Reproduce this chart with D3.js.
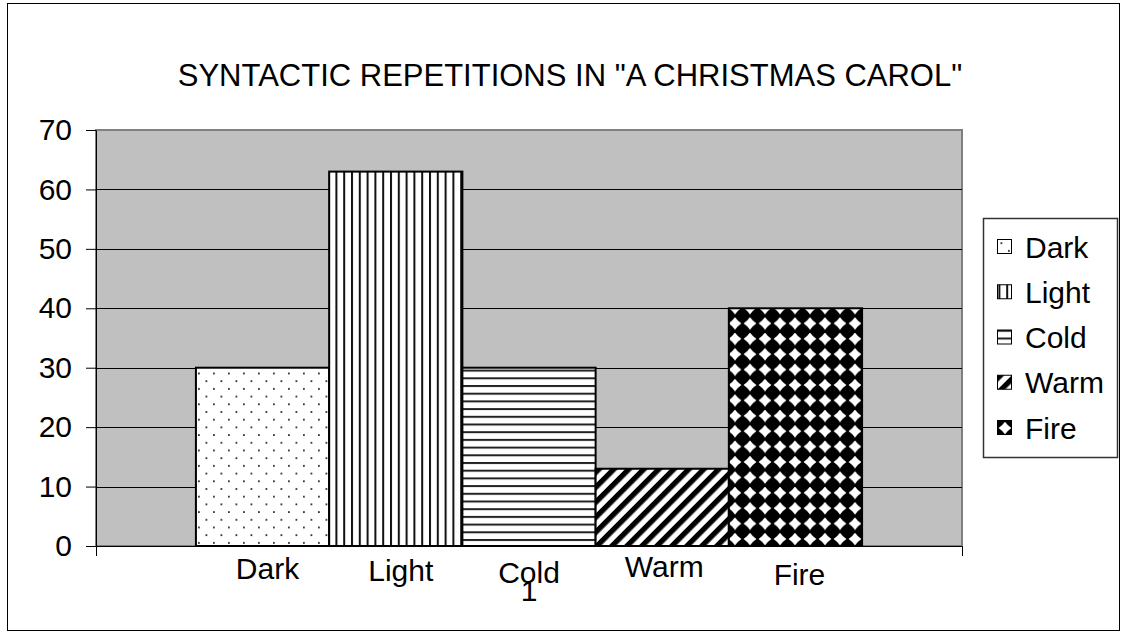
<!DOCTYPE html>
<html>
<head>
<meta charset="utf-8">
<script src="https://cdn.jsdelivr.net/npm/d3@7"></script>
<style>
  html, body { margin: 0; padding: 0; background: #fff; }
  svg { display: block; font-family: "Liberation Sans", Arial, sans-serif; }
</style>
</head>
<body>
<svg id="chart" width="1125" height="635"></svg>
<script>
// ---- data ----
const categories = ["1"];
const seriesNames = ["Dark", "Light", "Cold", "Warm", "Fire"];
const seriesValues = [30, 63, 30, 13, 40];
const yTickValues = [0, 10, 20, 30, 40, 50, 60, 70];
const chartTitle = 'SYNTACTIC REPETITIONS IN "A CHRISTMAS CAROL"';

// ---- layout ----
const W = 1125, H = 635;
const plot = { left: 96, top: 130, right: 962, bottom: 546 };
const fontSize = 30;
// small hand-placed offsets of the series name boxes under the bars [dx, baseline]
const nameBoxNudge = [[5, 579], [5, 581], [0, 583], [2, 577], [4, 585]];

const svg = d3.select("#chart");

// ---- fill patterns ----
const defs = svg.append("defs");
function pattern(id, w, h, transform) {
  const p = defs.append("pattern")
    .attr("id", id)
    .attr("patternUnits", "userSpaceOnUse")
    .attr("width", w).attr("height", h);
  if (transform) p.attr("patternTransform", transform);
  p.append("rect").attr("width", w).attr("height", h).attr("fill", "#fff");
  return p;
}
// Dark: sparse dots
{
  const p = pattern("fill-Dark", 15, 15.4);
  p.append("rect").attr("x", 3).attr("y", 3).attr("width", 1.8).attr("height", 1.8).attr("fill", "#333");
  p.append("rect").attr("x", 10.5).attr("y", 10.7).attr("width", 1.8).attr("height", 1.8).attr("fill", "#333");
}
// Light: vertical lines
{
  const p = pattern("fill-Light", 7.8, 10);
  p.append("rect").attr("x", 0).attr("width", 2).attr("height", 10).attr("fill", "#111");
}
// Cold: horizontal lines
{
  const p = pattern("fill-Cold", 10, 7.7);
  p.append("rect").attr("y", 0).attr("width", 10).attr("height", 2).attr("fill", "#222");
}
// Warm: wide upward diagonal
{
  const p = pattern("fill-Warm", 10.6, 10.6, "rotate(45)");
  p.append("rect").attr("width", 5.3).attr("height", 10.6).attr("fill", "#000");
}
// Fire: solid diamonds
{
  const w = 15, h = 15.4, cx = w / 2, cy = h / 2, r = 8.4, k = 0.62 * r;
  const p = pattern("fill-Fire", w, h);
  p.append("path")
    .attr("d", `M${cx},${cy - r} Q${cx + k},${cy - k} ${cx + r},${cy} Q${cx + k},${cy + k} ${cx},${cy + r}` +
               ` Q${cx - k},${cy + k} ${cx - r},${cy} Q${cx - k},${cy - k} ${cx},${cy - r}Z`)
    .attr("fill", "#000");
}

// ---- outer chart frame ----
svg.append("rect")
  .attr("x", 7.5).attr("y", 3.5)
  .attr("width", 1112).attr("height", 627)
  .attr("fill", "#fff").attr("stroke", "#000").attr("stroke-width", 1);

// ---- title ----
svg.append("text")
  .attr("x", 570).attr("y", 86)
  .attr("text-anchor", "middle")
  .attr("font-size", 31)
  .attr("fill", "#000")
  .text(chartTitle);

// ---- scales ----
const y = d3.scaleLinear().domain([0, 70]).range([plot.bottom, plot.top]);
const x0 = d3.scaleBand().domain(categories).range([plot.left, plot.right]).padding(0);
const x1 = d3.scaleBand().domain(seriesNames).range([0, x0.bandwidth()])
  .paddingInner(0).paddingOuter(0.75);

// ---- plot area ----
svg.append("rect")
  .attr("x", plot.left).attr("y", plot.top)
  .attr("width", plot.right - plot.left).attr("height", plot.bottom - plot.top)
  .attr("fill", "#c0c0c0").attr("stroke", "#808080").attr("stroke-width", 2);

svg.append("g").selectAll("line")
  .data(yTickValues.filter(v => v > 0 && v < 70))
  .join("line")
  .attr("x1", plot.left).attr("x2", plot.right)
  .attr("y1", d => Math.round(y(d)) + 0.5).attr("y2", d => Math.round(y(d)) + 0.5)
  .attr("stroke", "#000").attr("stroke-width", 1);

// ---- bars ----
const barData = seriesNames.map((name, i) => ({ category: categories[0], name, value: seriesValues[i] }));
svg.append("g").selectAll("rect")
  .data(barData)
  .join("rect")
  .attr("x", d => x0(d.category) + x1(d.name))
  .attr("y", d => y(d.value))
  .attr("width", x1.bandwidth())
  .attr("height", d => y(0) - y(d.value))
  .attr("fill", d => `url(#fill-${d.name})`)
  .attr("stroke", "#000").attr("stroke-width", 2);

// ---- axes ----
const yAxis = svg.append("g")
  .attr("transform", `translate(${plot.left},0)`)
  .call(d3.axisLeft(y).tickValues(yTickValues).tickSize(10).tickSizeOuter(0).tickPadding(14).tickFormat(d3.format("d")));
yAxis.selectAll("text").attr("font-size", fontSize).attr("fill", "#000").attr("font-family", null);
yAxis.selectAll("line, path").attr("stroke", "#000");

const xAxis = svg.append("g")
  .attr("transform", `translate(0,${plot.bottom})`)
  .call(d3.axisBottom(x0).tickSizeInner(0).tickSizeOuter(10).tickPadding(34));
xAxis.selectAll("text").attr("font-size", fontSize).attr("fill", "#000").attr("font-family", null);
xAxis.selectAll("line, path").attr("stroke", "#000");

// ---- series name boxes under the bars ----
svg.append("g").selectAll("text")
  .data(barData)
  .join("text")
  .attr("x", (d, i) => x0(d.category) + x1(d.name) + x1.bandwidth() / 2 + nameBoxNudge[i][0])
  .attr("y", (d, i) => nameBoxNudge[i][1])
  .attr("text-anchor", "middle")
  .attr("font-size", fontSize)
  .attr("fill", "#000")
  .text(d => d.name);

// ---- legend ----
const legend = svg.append("g");
legend.append("rect")
  .attr("x", 983.5).attr("y", 218.5)
  .attr("width", 134).attr("height", 239)
  .attr("fill", "#fff").attr("stroke", "#333").attr("stroke-width", 1.5);
const legendRow = d3.scalePoint().domain(seriesNames).range([247, 428]);
const items = legend.selectAll("g.item")
  .data(seriesNames)
  .join("g").attr("class", "item")
  .attr("transform", d => `translate(0,${legendRow(d)})`);
items.append("rect")
  .attr("x", 997.5).attr("y", -7.5)
  .attr("width", 14).attr("height", 14)
  .attr("fill", d => `url(#fill-${d})`)
  .attr("stroke", "#000").attr("stroke-width", 1);
items.append("text")
  .attr("x", 1025).attr("y", 10.5)
  .attr("font-size", fontSize)
  .attr("fill", "#000")
  .text(d => d);
</script>
</body>
</html>
